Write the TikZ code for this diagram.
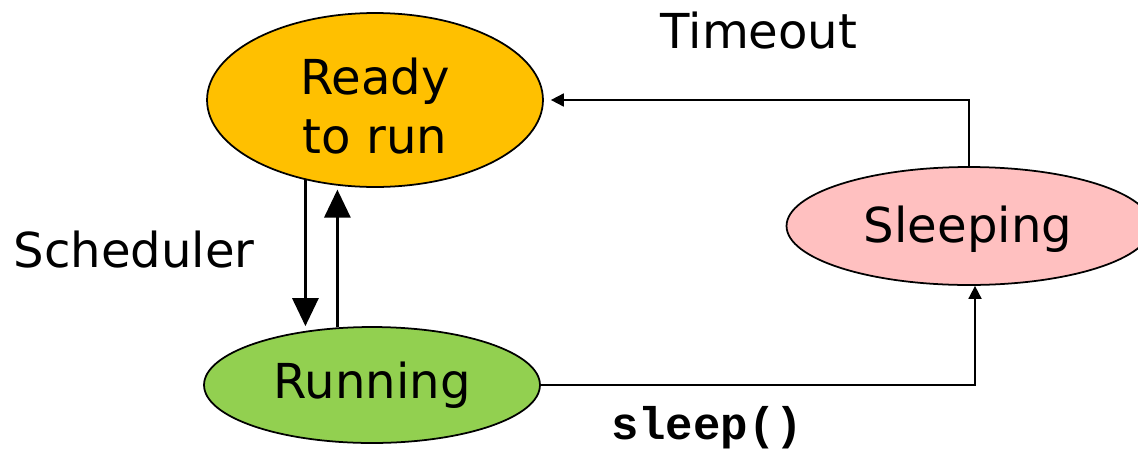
\documentclass[tikz,border=0pt]{standalone}
\usepackage{fontspec}
\setmainfont{DejaVu Sans}
\newfontfamily\codefont{Liberation Mono}
\usetikzlibrary{shapes.geometric,arrows.meta,calc}
\definecolor{readyc}{HTML}{FFC000}
\definecolor{runc}{HTML}{92D050}
\definecolor{sleepc}{HTML}{FFC0C0}
\tikzset{
  state/.style={ellipse,draw=black,line width=1pt,inner sep=0pt,align=center,
    font=\fontsize{27.4}{29}\selectfont},
  lbl/.style={font=\fontsize{27.4}{29}\selectfont,inner sep=0pt,align=center},
  bigarrow/.style={line width=1.7pt,-{Triangle[width=0.52cm,length=0.56cm]}},
  smallarrow/.style={line width=1pt,-{Triangle[width=0.26cm,length=0.26cm]}}
}
\begin{document}
\begin{tikzpicture}[x=0.02cm,y=-0.02cm]
\useasboundingbox (0,0) rectangle (1138,450);
\node[state,fill=readyc,minimum width=6.72cm,minimum height=3.48cm] (ready) at (375,100) {};
\node[lbl,font=\fontsize{27.4}{33.5}\selectfont] (readytxt) at (375,106) {Ready\\to run};
\node[state,fill=runc,minimum width=6.72cm,minimum height=2.32cm] (running) at (372,385) {Running};
\node[state,fill=sleepc,minimum width=7.3cm,minimum height=2.36cm] (sleeping) at (969,226) {};
\node[lbl] (sleeptxt) at (968,229) {Sleeping};
\draw[bigarrow] (ready.229) -- (ready.229 |- running.north);
\draw[bigarrow] (running.121) -- ($(running.121 |- ready.246)+(0,4)$);
\draw[smallarrow] (sleeping.north) |- ($(ready.east)+(7,0)$);
\draw[smallarrow] (running.east) -| ($(sleeping.south)+(6,0)$);
\node[lbl] (timeout) at (759,31) {Timeout};
\node[lbl] (sched) at (134,250) {Scheduler};
\node[font=\codefont\bfseries\fontsize{26}{28}\selectfont,inner sep=0pt] (sleepcall) at (707,428) {sleep()};
\end{tikzpicture}
\end{document}
